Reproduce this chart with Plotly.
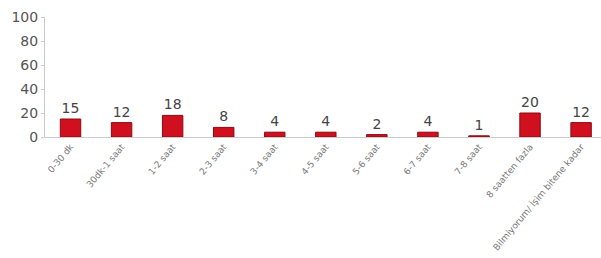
import plotly.graph_objects as go

categories = ["0-30 dk", "30dk-1 saat", "1-2 saat", "2-3 saat", "3-4 saat", "4-5 saat",
              "5-6 saat", "6-7 saat", "7-8 saat", "8 saatten fazla",
              "Bilmiyorum/ İşim bitene kadar"]
values = [15, 12, 18, 8, 4, 4, 2, 4, 1, 20, 12]
y_ticks = [0, 20, 40, 60, 80, 100]

fig = go.Figure(go.Bar(
    x=list(range(len(categories))), y=values,
    text=[str(v) for v in values], textposition="outside",
    textfont=dict(size=14, color="#444", family="Verdana, DejaVu Sans"),
    marker=dict(color="#d0101e", line=dict(color="#8a0a12", width=1)),
    width=0.4, cliponaxis=False,
))
fig.update_layout(
    width=601, height=258,
    margin=dict(l=45, r=0, t=17, b=121),
    paper_bgcolor="white", plot_bgcolor="white",
    showlegend=False,
    font=dict(family="Verdana, DejaVu Sans", color="#555"),
)
fig.update_xaxes(
    tickmode="array", tickvals=list(range(len(categories))), ticktext=categories,
    tickangle=-50, tickfont=dict(size=9, color="#777"),
    range=[-0.5, 10.39], showline=True, linecolor="#ccc", linewidth=1,
    showgrid=False, ticks="",
)
fig.update_yaxes(
    range=[0, 100], tickvals=y_ticks, tickfont=dict(size=14, color="#555"),
    showline=True, linecolor="#ccc", linewidth=1, showgrid=False,
    ticks="outside", ticklen=3, tickcolor="#ccc", zeroline=False,
)
fig.write_html("out.html", config={"displayModeBar": False},
               post_script="document.body.style.margin='0';document.body.style.overflow='hidden';")
